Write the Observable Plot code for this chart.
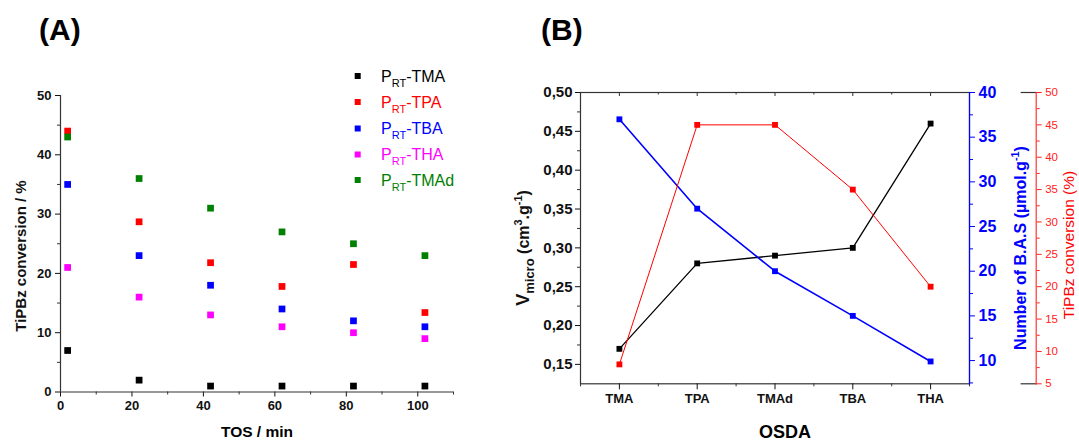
<!DOCTYPE html>
<html>
<head>
<meta charset="utf-8">
<script src="https://cdn.jsdelivr.net/npm/d3@7"></script>
<script src="https://cdn.jsdelivr.net/npm/@observablehq/plot@0.6"></script>
<style>
  body { margin: 0; background: #fff; }
  #wrap { position: relative; width: 1079px; height: 441px; overflow: hidden; background: #fff; }
  .layer { position: absolute; top: 0; }
</style>
</head>
<body>
<div id="wrap"></div>
<script>
// ---------- Panel A data ----------
const tos = [2, 22, 42, 62, 82, 102];
const convTMA = [7, 2, 1, 1, 1, 1];
const convTPA = [44, 28.7, 21.8, 17.8, 21.5, 13.4];
const convTBA = [35, 23, 18, 14, 12, 11];
const convTHA = [21, 16, 13, 11, 10, 9];
const convTMAd = [43, 36, 31, 27, 25, 23];
const seriesA = ["TMA", "TPA", "TBA", "THA", "TMAd"];
const colorsA = ["#000000", "#ff0000", "#0000ff", "#ff00ff", "#008000"];
const xTicksA = [0, 20, 40, 60, 80, 100];
const xMinorA = [10, 30, 50, 70, 90, 110];
const yTicksA = [0, 10, 20, 30, 40, 50];
const yMinorA = [5, 15, 25, 35, 45];

// ---------- Panel B data ----------
const osda = ["TMA", "TPA", "TMAd", "TBA", "THA"];
const vMicro = [0.17, 0.28, 0.29, 0.30, 0.46];
const basNumber = [37, 27, 20, 15, 9.9];
const convB = [8, 45, 45, 35, 20];
const osdaPos = [1, 2, 3, 4, 5];
const osdaMinor = [0.5, 1.5, 2.5, 3.5, 4.5, 5.5];
const vTicks = [0.15, 0.20, 0.25, 0.30, 0.35, 0.40, 0.45, 0.50];
const vMinor = [0.175, 0.225, 0.275, 0.325, 0.375, 0.425, 0.475];
const basTicks = [10, 15, 20, 25, 30, 35, 40];
const basMinor = [7.5, 12.5, 17.5, 22.5, 27.5, 32.5, 37.5];
const convTicks = [5, 10, 15, 20, 25, 30, 35, 40, 45, 50];
const convMinor = [7.5, 12.5, 17.5, 22.5, 27.5, 32.5, 37.5, 42.5, 47.5];

const FONT = '"Liberation Sans", Arial, Helvetica, sans-serif';
const AX = "#333";
const wrap = document.getElementById("wrap");

function place(svg, left) {
  const d = document.createElement("div");
  d.className = "layer";
  d.style.left = left + "px";
  d.appendChild(svg);
  wrap.appendChild(d);
}
const baseStyle = (w) => ({fontFamily: FONT, fontWeight: w, background: "transparent", overflow: "visible"});

// ---------- Panel A ----------
const convA = [convTMA, convTPA, convTBA, convTHA, convTMAd];
const rowsA = seriesA.flatMap((s, k) => tos.map((t, i) => ({series: s, tos: t, conv: convA[k][i]})));
const plotA = Plot.plot({
  width: 520, height: 441,
  marginTop: 95, marginRight: 67, marginBottom: 49.5, marginLeft: 60,
  style: baseStyle("bold"),
  x: {domain: [0, 110]},
  y: {domain: [0, 50]},
  color: {domain: seriesA, range: colorsA},
  marks: [
    Plot.axisX({ticks: xTicksA, tickSize: 5, tickPadding: 4, fontSize: 13, fontWeight: "bold", color: "#111", label: null}),
    Plot.axisX({ticks: xMinorA, tickSize: 3, text: null, color: AX, label: null}),
    Plot.axisY({ticks: yTicksA, tickSize: 5, tickPadding: 4, fontSize: 13, fontWeight: "bold", color: "#111", label: null}),
    Plot.axisY({ticks: yMinorA, tickSize: 3, text: null, color: AX, label: null}),
    Plot.ruleY([0], {stroke: AX, strokeWidth: 1.2}),
    Plot.ruleX([0], {stroke: AX, strokeWidth: 1.2}),
    Plot.dot(rowsA, {x: "tos", y: "conv", fill: "series", symbol: "square", r: 3.8})
  ]
});
place(plotA, 0);

// ---------- Panel B ----------
const rowsB = osda.map((d, i) => ({pos: osdaPos[i], v: vMicro[i], bas: basNumber[i], conv: convB[i]}));
const common = {width: 559, height: 441, marginTop: 92, marginBottom: 57.7, marginLeft: 60, marginRight: 110};
const plotH = 441 - 92 - 57.7;
const fmtComma = (d) => d3.format(".2f")(d).replace(".", ",");

const plotB1 = Plot.plot({
  ...common,
  style: baseStyle("bold"),
  x: {domain: [0.5, 5.5]},
  y: {domain: [0.125, 0.5]},
  marks: [
    Plot.frame({stroke: AX, strokeWidth: 1.2}),
    Plot.axisX({ticks: osdaPos, tickSize: 6, tickPadding: 4, tickFormat: (p) => osda[p - 1], fontSize: 13, fontWeight: "bold", color: "#111", label: null}),
    Plot.axisX({ticks: osdaMinor, tickSize: 3, text: null, color: AX, label: null}),
    Plot.tickX(osdaPos, {x: (d) => d, stroke: AX, insetBottom: plotH - 4}),
    Plot.tickX(osdaMinor, {x: (d) => d, stroke: AX, insetBottom: plotH - 2.5}),
    Plot.axisY({ticks: vTicks, tickSize: 5, tickPadding: 3, tickFormat: fmtComma, fontSize: 15, fontWeight: "bold", color: "#111", label: null}),
    Plot.axisY({ticks: vMinor, tickSize: 3, text: null, color: AX, label: null}),
    Plot.line(rowsB, {x: "pos", y: "v", stroke: "#000", strokeWidth: 1.3}),
    Plot.dot(rowsB, {x: "pos", y: "v", fill: "#000", symbol: "square", r: 3.3})
  ]
});
place(plotB1, 520);

const plotB2 = Plot.plot({
  ...common,
  style: baseStyle("bold"),
  x: {domain: [0.5, 5.5], axis: null},
  y: {domain: [7.4, 40]},
  marks: [
    Plot.frame({anchor: "right", stroke: "#0000ff", strokeWidth: 1.2}),
    Plot.axisY({anchor: "right", ticks: basTicks, tickSize: 5, tickPadding: 4, fontSize: 16, fontWeight: "bold", color: "#0000ff", label: null}),
    Plot.axisY({anchor: "right", ticks: basMinor, tickSize: 3, text: null, color: "#0000ff", label: null}),
    Plot.line(rowsB, {x: "pos", y: "bas", stroke: "#0000ff", strokeWidth: 1.6}),
    Plot.dot(rowsB, {x: "pos", y: "bas", fill: "#0000ff", symbol: "square", r: 3.3})
  ]
});
place(plotB2, 520);

const plotB3 = Plot.plot({
  ...common,
  style: baseStyle("normal"),
  x: {domain: [0.5, 5.5], axis: null},
  y: {domain: [5, 50], axis: null},
  marks: [
    Plot.line(rowsB, {x: "pos", y: "conv", stroke: "#ff0000", strokeWidth: 1}),
    Plot.dot(rowsB, {x: "pos", y: "conv", fill: "#ff0000", symbol: "square", r: 3.3})
  ]
});
place(plotB3, 520);

// third (red) axis, offset to the right
const plotB4 = Plot.plot({
  width: 559, height: 441, marginTop: 92, marginBottom: 57.7, marginLeft: 500.7, marginRight: 43.3,
  style: baseStyle("normal"),
  x: {domain: [0, 1], axis: null},
  y: {domain: [5, 50]},
  marks: [
    Plot.frame({anchor: "top", stroke: AX, strokeWidth: 1.2}),
    Plot.frame({anchor: "bottom", stroke: AX, strokeWidth: 1.2}),
    Plot.frame({anchor: "right", stroke: "#ff3333", strokeWidth: 1.2}),
    Plot.axisY({anchor: "right", ticks: convTicks, tickSize: 5, tickPadding: 4, fontSize: 11.5, fontWeight: "normal", color: "#ff2020", label: null}),
    Plot.axisY({anchor: "right", ticks: convMinor, tickSize: 3, text: null, color: "#ff2020", label: null})
  ]
});
place(plotB4, 520);

// ---------- Overlay text (titles, axis titles, legend) ----------
const ov = d3.select("#wrap").append("svg")
  .attr("width", 1079).attr("height", 441)
  .style("position", "absolute").style("left", "0px").style("top", "0px")
  .style("pointer-events", "none")
  .style("font-family", FONT);

function rich(g, parts, size) {
  const t = g.append("text");
  let shift = 0;
  for (const [txt, kind, sz] of parts) {
    const fs = sz || (kind === "n" ? size : size * 0.68);
    const target = kind === "sub" ? size * 0.32 : kind === "sup" ? -size * 0.42 : 0;
    t.append("tspan").attr("dy", target - shift).attr("font-size", fs).text(txt);
    shift = target;
  }
  return t;
}
function rotLabel(cx, cy, parts, size, weight, fill) {
  const g = ov.append("g").attr("transform", `translate(${cx},${cy}) rotate(-90)`);
  rich(g, parts, size).attr("text-anchor", "middle").attr("y", size * 0.36)
    .attr("font-weight", weight).attr("fill", fill);
}

ov.append("text").attr("x", 39).attr("y", 40).attr("font-size", 30).attr("font-weight", "bold").text("(A)");
ov.append("text").attr("x", 541).attr("y", 40).attr("font-size", 30).attr("font-weight", "bold").text("(B)");

ov.append("text").attr("x", 257).attr("y", 437).attr("text-anchor", "middle")
  .attr("font-size", 15.5).attr("font-weight", "bold").text("TOS / min");
ov.append("text").attr("x", 785).attr("y", 438).attr("text-anchor", "middle")
  .attr("font-size", 18).attr("font-weight", "bold").text("OSDA");

rotLabel(21, 256, [["TiPBz conversion / %", "n"]], 15, "bold", "#111");
rotLabel(523, 248, [["V", "n", 18], ["micro", "sub", 13], [" (cm", "n"], ["3", "sup"], [".g", "n"], ["-1", "sup"], [")", "n"]], 16, "bold", "#111");
rotLabel(1020, 248, [["Number of B.A.S (", "n"], ["\u00b5", "n"], ["mol.g", "n"], ["-1", "sup"], [")", "n"]], 16, "bold", "#0000ff");
rotLabel(1068, 245, [["TiPBz conversion (%)", "n"]], 15.5, "normal", "#ff0000");

// legend for panel A
const legendY = [76, 102, 128.5, 154.5, 180];
seriesA.forEach((s, i) => {
  const cy = legendY[i];
  ov.append("rect").attr("x", 354.7).attr("y", cy - 3).attr("width", 6).attr("height", 6).attr("fill", colorsA[i]);
  const g = ov.append("g").attr("transform", `translate(381,${cy + 5.8})`);
  rich(g, [["P", "n"], ["RT", "sub", 11], ["-" + s, "n"]], 16).attr("fill", colorsA[i]);
});
</script>
</body>
</html>
